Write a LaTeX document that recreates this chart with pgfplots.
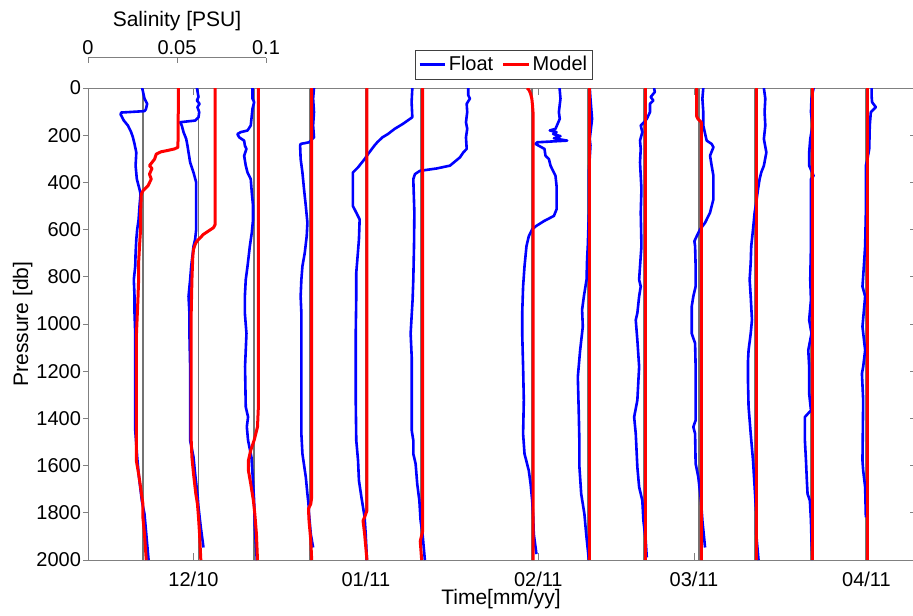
\documentclass[border=0pt]{standalone}
\usepackage{pgfplots}
\pgfplotsset{compat=1.18}
\usepackage{fontspec}
\setmainfont{Liberation Sans}

% Float vs. model salinity profiles, Dec 2010 - Apr 2011.
% x axis: days since 1 Dec 2010.  Each profile is drawn as an anomaly
% (column s, in 1e-3 PSU) around the day of the profile; 0.1 PSU = 32 days.

\pgfplotsset{
  profax/.style={
    at={(44pt,27.5pt)}, anchor=south west,
    width=413pt, height=236pt, scale only axis,
    xmin=-18.97, xmax=129.56, ymin=0, ymax=2000, y dir=reverse,
  },
  float/.style={color=blue, line width=1.3pt, line join=round},
  model/.style={color=red, line width=1.5pt, line join=round},
  refline/.style={color=black!55, line width=0.7pt},
  tickfont/.style={font=\fontsize{10}{12}\selectfont},
}

\begin{document}
\begin{tikzpicture}
\path[use as bounding box] (0,0) rectangle (456.5pt,307.5pt);

% salinity scale bar
\begin{axis}[
  at={(44pt,278.5pt)}, anchor=north west,
  width=89pt, height=2pt, scale only axis,
  xmin=0, xmax=0.1, ymin=0, ymax=1,
  hide y axis, axis x line*=top,
  xtick={0,0.05,0.1}, xticklabels={0,0.05,0.1},
  tick align=inside, major tick length=2.5pt,
  axis line style={black!50, line width=0.5pt},
  tick style={black!50, line width=0.5pt},
  xticklabel style={tickfont, anchor=base, yshift=1.5pt},
  xlabel={Salinity [PSU]},
  xlabel style={font=\fontsize{10.5}{12}\selectfont,
    at={(axis description cs:0.5,1)}, anchor=base, yshift=15.7pt},
]
\end{axis}

% tick marks: x inward (top and bottom)
\begin{axis}[profax,
  xtick={0,31,62,90,121}, xticklabels={}, ytick=\empty,
  xtick pos=both, tick align=inside, major tick length=3.5pt,
  tick style={black!50, line width=0.5pt}, axis line style={draw=none},
]
\end{axis}
% y ticks, left side outward
\begin{axis}[profax,
  xtick=\empty, ytick={0,200,...,2000}, yticklabels={},
  ytick pos=left, tick align=outside, major tick length=2.5pt,
  tick style={black!50, line width=0.5pt}, axis line style={draw=none},
]
\end{axis}
% y ticks, right side inward
\begin{axis}[profax,
  xtick=\empty, ytick={0,200,...,2000}, yticklabels={},
  ytick pos=right, tick align=inside, major tick length=2pt,
  tick style={black!50, line width=0.5pt}, axis line style={draw=none},
]
\end{axis}

\begin{axis}[profax,
  xtick={0,31,62,90,121},
  xticklabels={12/10,01/11,02/11,03/11,04/11},
  ytick={0,200,...,2000},
  tick style={draw=none}, tick align=inside,
  axis line style={black!50, line width=0.5pt},
  tick label style={tickfont},
  /pgf/number format/assume math mode=true,
  /pgf/number format/1000 sep={},
  xticklabel style={anchor=base, yshift=-13pt},
  xlabel={Time[mm/yy]}, ylabel={Pressure [db]},
  label style={font=\fontsize{10.5}{12}\selectfont},
  xlabel style={at={(axis description cs:0.5,-0.0932)}, anchor=base},
  ylabel style={at={(axis description cs:-0.0726,0.5)}, anchor=base},
  legend columns=2,
  legend style={at={(0.5035,1)}, anchor=south, yshift=4pt,
    draw=black!75, line width=0.5pt, font=\fontsize{10}{12}\selectfont,
    inner xsep=1.5pt, inner ysep=1.5pt,
    nodes={inner xsep=1.2pt, inner ysep=1.5pt},
    /tikz/every even column/.append style={column sep=3pt}},
  legend image code/.code={\draw[#1] (0pt,0pt) -- (12.8pt,0pt);},
]

% profile reference lines
\addplot[refline, forget plot] coordinates {(-9.1,0) (-9.1,2000)};
\addplot[refline, forget plot] coordinates {(0.9,0) (0.9,2000)};
\addplot[refline, forget plot] coordinates {(10.9,0) (10.9,2000)};
\addplot[refline, forget plot] coordinates {(20.9,0) (20.9,2000)};
\addplot[refline, forget plot] coordinates {(30.9,0) (30.9,2000)};
\addplot[refline, forget plot] coordinates {(40.9,0) (40.9,2000)};
\addplot[refline, forget plot] coordinates {(60.9,0) (60.9,2000)};
\addplot[refline, forget plot] coordinates {(70.9,0) (70.9,2000)};
\addplot[refline, forget plot] coordinates {(80.9,0) (80.9,2000)};
\addplot[refline, forget plot] coordinates {(90.9,0) (90.9,2000)};
\addplot[refline, forget plot] coordinates {(100.9,0) (100.9,2000)};
\addplot[refline, forget plot] coordinates {(110.9,0) (110.9,2000)};
\addplot[refline, forget plot] coordinates {(120.9,0) (120.9,2000)};

% ---------------- float profiles ----------------
\addplot[float] table[x expr=-9.1+0.32*\thisrow{s}, y=p] {
p s
0 -0.4
45 0.9
67 2.4
90 1.7
98 0.9
104 -12.2
112 -12.5
138 -10.7
159 -8.4
187 -6.6
209 -5.6
237 -4.7
273 -3.7
329 -4.1
386 -3.4
429 -1.9
450 -1.3
500 -1.9
557 -2.4
599 -3.2
642 -3.7
699 -4.1
755 -4.3
812 -5.1
883 -4.7
954 -4.7
1040 -4.3
1181 -4.3
1323 -4.3
1450 -4.3
1564 -3.2
1635 -2.4
1748 -0.6
1805 0.9
1890 1.9
2000 3.2
};
\addlegendentry{Float}

\addplot[float, forget plot] table[x expr=0.9+0.32*\thisrow{s}, y=p] {
p s
0 -0.9
38 0.0
53 -0.9
67 0.6
81 -0.6
102 0.4
124 0.0
138 -1.9
145 -10.3
159 -9.4
187 -8.4
216 -6.9
244 -6.2
273 -5.6
315 -4.7
358 -2.8
400 -1.3
528 -1.3
599 -1.3
642 -1.9
670 -2.8
699 -3.2
755 -4.1
812 -4.7
883 -5.6
954 -5.1
1040 -5.1
1181 -4.7
1323 -4.7
1493 -4.7
1564 -2.8
1635 -1.9
1720 -0.6
1776 0.0
1862 1.3
1947 2.8
};

\addplot[float, forget plot] table[x expr=10.9+0.32*\thisrow{s}, y=p] {
p s
0 -0.9
45 -0.9
60 0.0
88 -0.9
159 -1.9
180 -3.7
187 -7.5
195 -9.4
209 -8.4
223 -5.6
244 -5.2
258 -4.3
287 -5.6
329 -4.7
358 -3.7
386 -1.9
443 -1.3
500 -0.6
557 -0.6
613 -1.3
670 -2.4
755 -3.7
812 -4.7
883 -5.2
954 -5.2
1040 -4.3
1181 -5.1
1351 -4.7
1394 -3.4
1436 -4.1
1493 -3.4
1564 -1.5
1635 -0.9
1748 0.0
1862 0.4
2000 1.5
};

\addplot[float, forget plot] table[x expr=20.9+0.32*\thisrow{s}, y=p] {
p s
0 2.4
45 1.9
102 2.4
159 1.9
209 2.4
223 0.6
230 -0.4
237 -5.1
244 -5.4
301 -5.1
358 -4.1
429 -3.2
500 -2.2
571 -1.3
628 -1.7
699 -2.8
755 -4.1
812 -4.7
883 -5.1
954 -4.7
1040 -4.7
1181 -4.7
1323 -4.7
1465 -4.7
1550 -4.1
1649 -2.2
1720 -1.3
1762 -0.7
1805 -0.4
1890 0.6
1947 1.9
};

\addplot[float, forget plot] table[x expr=30.9+0.32*\thisrow{s}, y=p] {
p s
0 26.4
60 26.0
124 26.4
152 21.1
173 16.5
195 12.7
209 9.6
230 6.7
244 5.1
273 2.2
301 -0.4
337 -4.2
358 -7.0
429 -7.0
500 -7.0
528 -5.1
557 -3.2
642 -3.6
699 -4.2
783 -5.1
883 -5.1
1040 -5.4
1181 -5.4
1323 -5.4
1493 -5.1
1578 -4.1
1663 -3.6
1734 -2.2
1776 -1.3
1819 -0.4
1890 0.2
2000 0.9
};

\addplot[float, forget plot] table[x expr=40.9+0.32*\thisrow{s}, y=p] {
p s
0 26.6
31 26.6
45 27.5
67 25.7
102 26.0
145 25.3
173 26.0
209 25.3
258 25.7
273 23.8
294 21.9
329 16.3
341 8.8
351 -0.6
365 -3.4
386 -4.3
528 -3.7
670 -3.9
812 -4.3
898 -4.7
1040 -5.8
1139 -5.2
1252 -5.2
1450 -5.2
1493 -4.3
1550 -4.3
1592 -3.0
1677 -2.1
1748 -0.9
1833 -0.2
1890 0.9
2000 2.2
};

\addplot[float, forget plot] table[x expr=60.9+0.32*\thisrow{s}, y=p] {
p s
0 15.4
45 15.9
102 15.0
131 15.5
173 13.1
180 9.9
187 13.7
195 11.8
204 15.9
213 12.2
223 19.7
230 2.8
237 1.9
258 6.9
287 7.5
301 9.4
329 10.3
372 13.1
415 13.7
514 13.7
542 12.2
564 6.6
585 2.2
599 0.0
628 -1.9
670 -3.2
755 -4.3
841 -5.1
954 -5.6
1040 -5.6
1181 -5.1
1323 -4.7
1465 -5.1
1550 -4.3
1621 -1.9
1677 -0.9
1748 0.0
1819 0.6
1890 0.9
1975 2.4
};

\addplot[float, forget plot] table[x expr=70.9+0.32*\thisrow{s}, y=p] {
p s
0 1.1
45 1.5
131 2.4
216 1.1
244 1.5
358 0.6
528 0.6
670 0.0
727 -0.4
812 -0.7
883 -2.2
940 -3.2
1011 -2.8
1111 -4.3
1224 -5.6
1366 -5.1
1507 -4.7
1606 -4.7
1720 -3.7
1805 -1.9
1890 -0.9
2000 0.6
};

\addplot[float, forget plot] table[x expr=80.9+0.32*\thisrow{s}, y=p] {
p s
0 6.0
17 6.4
38 4.1
53 5.6
67 3.7
102 3.7
131 1.9
145 0.4
159 -1.5
187 -0.6
223 -1.9
258 -1.5
315 -1.9
372 -1.5
429 -1.1
528 -1.5
670 -1.1
755 -1.9
812 -2.4
841 -1.5
883 -2.4
954 -3.4
983 -4.3
1068 -3.4
1181 -2.4
1266 -3.0
1323 -3.4
1394 -5.2
1465 -4.3
1606 -3.4
1691 -2.4
1748 -0.6
1833 0.0
1918 1.3
1989 1.9
};

\addplot[float, forget plot] table[x expr=90.9+0.32*\thisrow{s}, y=p] {
p s
0 2.4
45 1.9
102 2.4
159 2.4
223 4.3
237 7.1
251 8.1
287 6.2
329 7.1
372 8.1
429 8.1
471 8.1
528 6.2
571 3.4
599 0.6
628 -1.3
649 -2.6
670 -2.2
755 -1.9
841 -1.9
883 -3.2
926 -4.1
1040 -4.1
1082 -2.2
1181 -1.9
1408 -1.9
1436 -3.2
1465 -2.2
1592 -1.9
1649 -0.4
1748 1.1
1833 1.9
1947 3.4
};

\addplot[float, forget plot] table[x expr=100.9+0.32*\thisrow{s}, y=p] {
p s
0 5.2
45 6.0
102 5.6
159 6.0
216 5.2
273 6.6
329 5.2
358 3.7
386 2.8
429 1.9
486 0.9
528 0.0
599 -0.9
670 -1.9
741 -2.2
812 -2.8
883 -2.2
983 -1.5
1040 -2.2
1111 -3.4
1153 -3.7
1252 -3.7
1351 -3.4
1465 -2.2
1578 -0.9
1691 0.0
1805 0.9
1890 0.9
2000 2.2
};

\addplot[float, forget plot] table[x expr=110.9+0.32*\thisrow{s}, y=p] {
p s
0 1.9
45 0.7
102 0.4
159 1.3
216 0.0
273 -0.6
329 -0.6
372 1.9
386 0.4
528 0.4
670 0.4
812 0.0
898 0.4
983 -0.6
1040 0.7
1111 -1.1
1181 -0.6
1295 -0.6
1366 0.4
1394 -3.0
1493 -3.0
1578 -2.4
1663 -1.9
1720 -1.5
1748 -0.2
1833 0.4
1918 0.7
2000 1.3
};

\addplot[float, forget plot] table[x expr=120.9+0.32*\thisrow{s}, y=p] {
p s
0 3.2
31 3.2
60 3.5
81 5.6
102 2.8
159 2.2
258 1.9
301 0.9
329 0.0
528 0.0
670 -0.4
798 -1.5
841 -1.9
883 -0.4
1011 -1.9
1111 -0.4
1181 -1.5
1210 -2.2
1323 -1.5
1578 -1.9
1621 -1.5
1691 -0.4
1819 0.0
};

% ---------------- model profiles ----------------
\addplot[model] table[x expr=-9.1+0.32*\thisrow{s}, y=p] {
p s
0 20.0
251 19.7
258 17.8
266 13.1
270 10.3
280 7.5
301 6.6
329 3.7
341 5.1
365 3.7
386 4.7
415 2.8
436 0.0
450 -0.9
528 -1.3
599 -1.3
670 -1.9
741 -2.4
812 -2.4
898 -2.8
1040 -3.6
1181 -3.6
1323 -3.7
1450 -3.6
1578 -3.7
1635 -2.4
1691 -1.3
1762 0.0
1819 0.0
1890 0.9
2000 1.9
};
\addlegendentry{Model}

\addplot[model, forget plot] table[x expr=0.9+0.32*\thisrow{s}, y=p] {
p s
0 9.4
578 9.4
592 8.4
606 5.6
620 2.8
635 0.9
649 -0.9
663 -1.9
684 -2.8
713 -3.2
812 -3.7
954 -4.1
1040 -4.1
1323 -4.1
1493 -4.1
1564 -3.7
1635 -2.8
1720 -1.5
1762 -0.6
1819 0.0
1890 0.6
2000 1.3
};

\addplot[model, forget plot] table[x expr=10.9+0.32*\thisrow{s}, y=p] {
p s
0 2.4
1351 2.4
1436 1.9
1493 0.0
1535 -1.9
1578 -3.2
1621 -3.2
1677 -1.9
1748 -0.4
1805 0.4
1890 1.3
2000 1.9
};

\addplot[model, forget plot] table[x expr=20.9+0.32*\thisrow{s}, y=p] {
p s
0 1.1
1734 1.1
1762 0.6
1783 -0.7
1833 -0.4
1918 0.6
2000 1.1
};

\addplot[model, forget plot] table[x expr=30.9+0.32*\thisrow{s}, y=p] {
p s
0 0.9
1790 0.9
1819 -0.4
1833 -1.3
1890 -0.4
2000 0.9
};

\addplot[model, forget plot] table[x expr=40.9+0.32*\thisrow{s}, y=p] {
p s
0 0.9
1880 0.9
1920 -0.4
2000 0.4
};

\addplot[model, forget plot] table[x expr=60.9+0.32*\thisrow{s}, y=p] {
p s
0 -2.8
10 -1.7
24 -0.9
45 -0.2
74 0.2
116 0.6
2000 0.6
};

\addplot[model, forget plot] table[x expr=70.9+0.32*\thisrow{s}, y=p] {
p s
0 0.9
2000 0.9
};

\addplot[model, forget plot] table[x expr=80.9+0.32*\thisrow{s}, y=p] {
p s
0 0.9
2000 0.9
};

\addplot[model, forget plot] table[x expr=90.9+0.32*\thisrow{s}, y=p] {
p s
0 -1.3
120 -1.3
131 -0.6
145 1.3
2000 1.3
};

\addplot[model, forget plot] table[x expr=100.9+0.32*\thisrow{s}, y=p] {
p s
0 1.3
2000 1.3
};

\addplot[model, forget plot] table[x expr=110.9+0.32*\thisrow{s}, y=p] {
p s
0 1.3
2000 1.3
};

\addplot[model, forget plot] table[x expr=120.9+0.32*\thisrow{s}, y=p] {
p s
0 0.9
2000 0.9
};

\end{axis}
\end{tikzpicture}
\end{document}
